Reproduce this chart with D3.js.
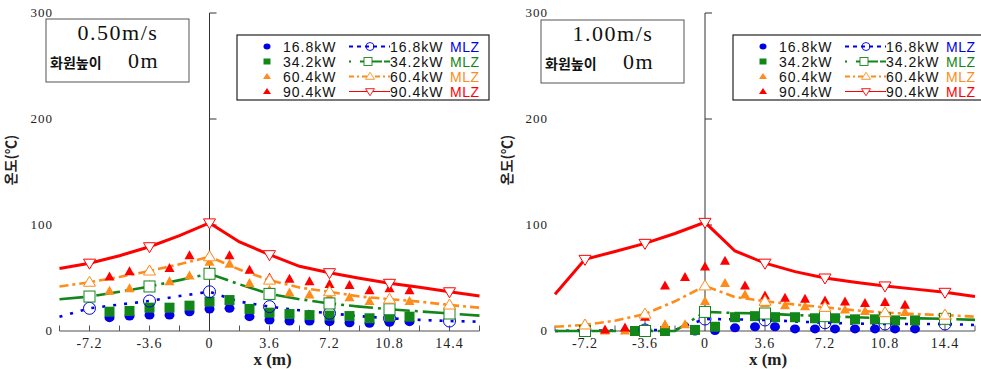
<!DOCTYPE html>
<html><head><meta charset="utf-8">
<script src="https://cdn.jsdelivr.net/npm/d3@7"></script>
<style>body{margin:0;background:#fff}svg{display:block}</style>
</head><body>
<svg id="c" width="981" height="369"></svg>
<script>
// ---------- data ----------
const xLabels = [-7.2, -3.6, 0, 3.6, 7.2, 10.8, 14.4];
const xMinor = [-9, -7.2, -5.4, -3.6, -1.8, 0, 1.8, 3.6, 5.4, 7.2, 9, 10.8, 12.6, 14.4, 16.2];
const yTicks = [0, 100, 200, 300];
const seriesNames = ["16.8kW", "34.2kW", "60.4kW", "90.4kW"];
const panelTitles = ["0.50m/s", "1.00m/s"];
const subTitle = "화원높이";
const subTitle2 = "0m";
const yTitle = "온도(℃)";
const xTitle = "x (m)";

// MLZ model lines (x positions shared)
const mlzX = [-9, -7.2, -5.4, -3.6, -1.8, 0, 1.8, 3.6, 5.4, 7.2, 9, 10.8, 12.6, 14.4, 16.2];
const L_mlz168 = [13.5, 21.4, 25, 28.3, 33, 37, 27.7, 23, 19.5, 16.7, 14, 12, 10.5, 9.4, 8.8];
const L_mlz342 = [30, 32.5, 37, 42, 48, 54, 44, 35, 30, 26, 23, 20.5, 18.5, 16.5, 14.5];
const L_mlz604 = [42, 46, 51, 56.6, 63, 70, 58, 48, 41, 37, 32.5, 30, 27.7, 24.5, 22];
const L_mlz904 = [59, 64, 71, 79.5, 90, 102, 84, 72, 61, 55, 49.7, 45, 41.2, 37, 33];
const R_mlz168 = [0, 0.5, 0.5, 1, 1, 11.3, 11, 10.4, 9, 7.8, 7, 6.6, 6.6, 6.6, 5.7];
const R_mlz342 = [0, 0, 0, 0, 0, 18, 17, 16.5, 15, 14, 13, 12, 12, 11.5, 10.5];
const R_mlz604 = [4, 5.7, 9.7, 16, 28, 42.5, 32, 28, 25, 22.3, 19.5, 17.3, 16, 15, 13.5];
const R_mlz904 = [34.6, 67.6, 75, 82.7, 92, 102.5, 75.5, 64, 56, 50, 46, 42.5, 39.5, 36.5, 32.5];

// measured values
const measX = [-6, -4.8, -3.6, -2.4, -1.2, 0, 1.2, 2.4, 3.6, 4.8, 6, 7.2, 8.4, 9.6, 10.8, 12];
const L_m168 = [12.6, 14.1, 15, 15, 18.2, 20.8, 21.4, 13.5, 10.4, 9.4, 9.4, 8.8, 7.8, 7.2, 8.2, 8.8];
const L_m342 = [18.2, 18.9, 22, 22, 23.9, 27.7, 29.2, 20.8, 17.3, 16, 15, 14.5, 14.1, 12, 13.5, 13.5];
const L_m604 = [37.5, 40, 43, 46.5, 52, 65, 63, 45, 38.5, 36, 34, 32.5, 31.5, 28, 29, 28];
const L_m904 = [51, 56, 57.5, 59, 71, 71, 71, 57.5, 50, 49, 46.5, 44, 43, 38, 40, 38];
const R_measX2 = [-4.2, -2.4, -0.6, 0.6, 1.8, 3.0, 4.2, 5.4, 6.6, 7.8, 9.0, 10.2, 11.4, 12.6];
const R_m168 = [0, 0, 0, 0.5, 3, 4, 4, 2, 2, 2, 2, 2, 2, 2];
const R_m342 = [0, 0, 1, 4, 13, 14, 13, 13, 12, 12, 11, 11, 10, 10];
const R_m604 = [0, 0, 0, 6, 6, 28, 45, 34, 26, 24, 23, 21.5, 20, 18.5, 17, 17.5];
const R_m904 = [1, 3, 13, 42.5, 50.5, 60.5, 66, 42.5, 33, 31, 30, 28.5, 27.5, 26, 27, 24.5];

// ---------- drawing ----------
const colors = ["#0000e6", "#13861a", "#ff8c1a", "#ff0000"];
const svg = d3.select("#c");
const serif = "'Liberation Serif','Times New Roman',serif";
const sans = "'Liberation Sans',Arial,sans-serif";
const kor = "'Noto Sans CJK KR',sans-serif";

const panels = [
  {x0: 209.5, ylab: 53, ytitle: 15, title: panelTitles[0], box: [46, 19], leg: [237, 35], longTicks: false,
   mlz: [L_mlz168, L_mlz342, L_mlz604, L_mlz904],
   meas: [[measX, L_m168], [measX, L_m342], [measX, L_m604], [measX, L_m904]]},
  {x0: 705, ylab: 548, ytitle: 511, title: panelTitles[1], box: [541, 20], leg: [733, 35], longTicks: true,
   mlz: [R_mlz168, R_mlz342, R_mlz604, R_mlz904],
   meas: [[R_measX2, R_m168], [R_measX2, R_m342], [measX, R_m604], [measX, R_m904]]}
];

function triPath(w, h, up) {
  const s = up ? 1 : -1;
  return `M0,${-s*h*0.6}L${w/2},${s*h*0.4}L${-w/2},${s*h*0.4}Z`;
}
function drawMarker(g, kind, filled, color, cx, cy) {
  if (kind === 0) {
    if (filled) g.append("ellipse").attr("cx", cx).attr("cy", cy).attr("rx", 5).attr("ry", 4.5).attr("fill", color);
    else g.append("circle").attr("cx", cx).attr("cy", cy).attr("r", 6).attr("fill", "none").attr("stroke", color).attr("stroke-width", 1);
  } else if (kind === 1) {
    const s = filled ? 10 : 11;
    g.append("rect").attr("x", cx - s/2).attr("y", cy - s/2).attr("width", s).attr("height", s)
      .attr("fill", filled ? color : "#fff").attr("stroke", filled ? "none" : color).attr("stroke-width", 1);
  } else {
    const up = kind === 2;
    const w = filled ? 10 : 12, h = filled ? 9 : 10;
    g.append("path").attr("d", filled ? triPath(w, h, true) : triPath(w, h, up))
      .attr("transform", `translate(${cx},${cy})`)
      .attr("fill", filled ? color : "#fff").attr("stroke", filled ? "none" : color).attr("stroke-width", 1);
  }
}
const dashes = ["3,8", "24,5,3,5", "9,4,3,4", null];
const widths = [2.6, 2.6, 2.6, 3];

panels.forEach(p => {
  const x = d3.scaleLinear().domain([-9, 16.2]).range([p.x0 - 150, p.x0 + 270]);
  const y = d3.scaleLinear().domain([0, 300]).range([331, 13]);
  const g = svg.append("g");

  // x axis line + minor ticks
  g.append("line").attr("x1", x(-9)).attr("x2", x(16.2)).attr("y1", y(0)).attr("y2", y(0))
    .attr("stroke", "#888").attr("stroke-width", 1.5);
  g.selectAll(".mt").data(xMinor.filter(v => v !== 0)).enter().append("line")
    .attr("x1", d => x(d)).attr("x2", d => x(d)).attr("y1", y(0))
    .attr("y2", d => y(0) - (p.longTicks && xLabels.includes(d) ? 11 : 5.5))
    .attr("stroke", "#555").attr("stroke-width", 1);
  g.selectAll(".xl").data(xLabels).enter().append("text")
    .attr("x", d => x(d)).attr("y", 348).attr("text-anchor", "middle")
    .attr("font-family", serif).attr("font-size", 14).attr("letter-spacing", 1).attr("fill", "#222")
    .text(d => d === 0 ? "0" : d3.format(".1f")(d).replace("−", "-"));

  // y axis
  g.append("line").attr("x1", p.x0).attr("x2", p.x0).attr("y1", y(300)).attr("y2", y(0))
    .attr("stroke", "#333").attr("stroke-width", 1);
  g.selectAll(".yt").data(yTicks.filter(v => v > 0)).enter().append("line")
    .attr("x1", p.x0).attr("x2", p.x0 + 7).attr("y1", d => y(d)).attr("y2", d => y(d))
    .attr("stroke", "#333").attr("stroke-width", 1);
  g.selectAll(".yl").data(yTicks).enter().append("text")
    .attr("x", p.ylab).attr("y", d => y(d) + 4).attr("text-anchor", "end")
    .attr("font-family", serif).attr("font-size", 13).attr("letter-spacing", 1).attr("fill", "#222")
    .text(d => d);
  g.append("text").attr("transform", `translate(${p.ytitle + 1},160) rotate(-90)`)
    .attr("text-anchor", "middle").attr("font-family", kor).attr("font-weight", "bold")
    .attr("font-size", 14).attr("fill", "#222").text(yTitle);
  g.append("text").attr("x", p.x0 + 63).attr("y", 365).attr("text-anchor", "middle")
    .attr("font-family", serif).attr("font-weight", "bold").attr("font-size", 17).attr("fill", "#222")
    .text(xTitle);

  // lines
  const line = d3.line().x((d, i) => x(mlzX[i])).y(d => y(d)).curve(d3.curveLinear);
  p.mlz.forEach((vals, k) => {
    g.append("path").attr("d", line(vals)).attr("fill", "none").attr("stroke", colors[k])
      .attr("stroke-width", widths[k]).attr("stroke-dasharray", dashes[k]);
  });
  // measured markers
  p.meas.forEach(([xs, vals], k) => {
    vals.forEach((v, i) => drawMarker(g, k, true, colors[k], x(xs[i]), y(v)));
  });
  // MLZ markers
  p.mlz.forEach((vals, k) => {
    vals.forEach((v, i) => {
      if (xLabels.includes(mlzX[i])) drawMarker(g, k, false, colors[k], x(mlzX[i]), y(v));
    });
  });

  // title box
  const [bx, by] = p.box;
  g.append("rect").attr("x", bx).attr("y", by).attr("width", 143).attr("height", 63)
    .attr("fill", "#fff").attr("stroke", "#555").attr("stroke-width", 1);
  g.append("text").attr("x", bx + 72).attr("y", by + 21).attr("text-anchor", "middle")
    .attr("font-family", serif).attr("font-size", 22).attr("letter-spacing", 1.5).attr("fill", "#111")
    .text(p.title);
  g.append("text").attr("x", bx + 4).attr("y", by + 49)
    .attr("font-family", kor).attr("font-weight", "bold").attr("font-size", 14).attr("fill", "#111")
    .text(subTitle);
  g.append("text").attr("x", bx + 82).attr("y", by + 49)
    .attr("font-family", serif).attr("font-size", 22).attr("letter-spacing", 1.5).attr("fill", "#111")
    .text(subTitle2);

  // legend
  const [lx, ly] = p.leg;
  g.append("rect").attr("x", lx).attr("y", ly).attr("width", 252).attr("height", 65)
    .attr("fill", "#fff").attr("stroke", "#222").attr("stroke-width", 1.2);
  seriesNames.forEach((nm, k) => {
    const ry = ly + 11.5 + k * 15;
    const lg = g.append("g");
    if (k === 0) lg.append("ellipse").attr("cx", lx + 30).attr("cy", ry).attr("rx", 3.5).attr("ry", 3).attr("fill", colors[k]);
    else if (k === 1) lg.append("rect").attr("x", lx + 26.5).attr("y", ry - 3).attr("width", 7).attr("height", 6).attr("fill", colors[k]);
    else lg.append("path").attr("d", triPath(8, 6, true)).attr("transform", `translate(${lx + 30},${ry})`).attr("fill", colors[k]);
    lg.append("text").attr("x", lx + 46).attr("y", ry + 5).attr("font-family", sans).attr("font-size", 14)
      .attr("letter-spacing", 1).attr("fill", "#111").text(nm);
    lg.append("line").attr("x1", lx + 112).attr("x2", lx + 153).attr("y1", ry).attr("y2", ry)
      .attr("stroke", colors[k]).attr("stroke-width", k === 3 ? 1.2 : 2).attr("stroke-dasharray", k === 0 ? "4,4" : (k === 1 ? "2,9,22" : (k === 2 ? "5,3,2,3" : null)));
    const mx = lx + 133;
    if (k === 0) lg.append("circle").attr("cx", mx).attr("cy", ry).attr("r", 4).attr("fill", "none").attr("stroke", colors[k]).attr("stroke-width", 0.9);
    else if (k === 1) lg.append("rect").attr("x", mx - 6).attr("y", ry - 4).attr("width", 8).attr("height", 8).attr("fill", "#fff").attr("stroke", colors[k]).attr("stroke-width", 0.9);
    else lg.append("path").attr("d", triPath(9, 7, k === 2)).attr("transform", `translate(${mx},${ry})`).attr("fill", "#fff").attr("stroke", colors[k]).attr("stroke-width", 0.9);
    lg.append("text").attr("x", lx + 153).attr("y", ry + 5).attr("font-family", sans).attr("font-size", 14)
      .attr("letter-spacing", 1).attr("fill", "#111").text(nm);
    lg.append("text").attr("x", lx + 213).attr("y", ry + 5).attr("font-family", sans).attr("font-size", 14)
      .attr("letter-spacing", 0.5).attr("fill", colors[k]).text("MLZ");
  });
});
</script>
</body></html>
